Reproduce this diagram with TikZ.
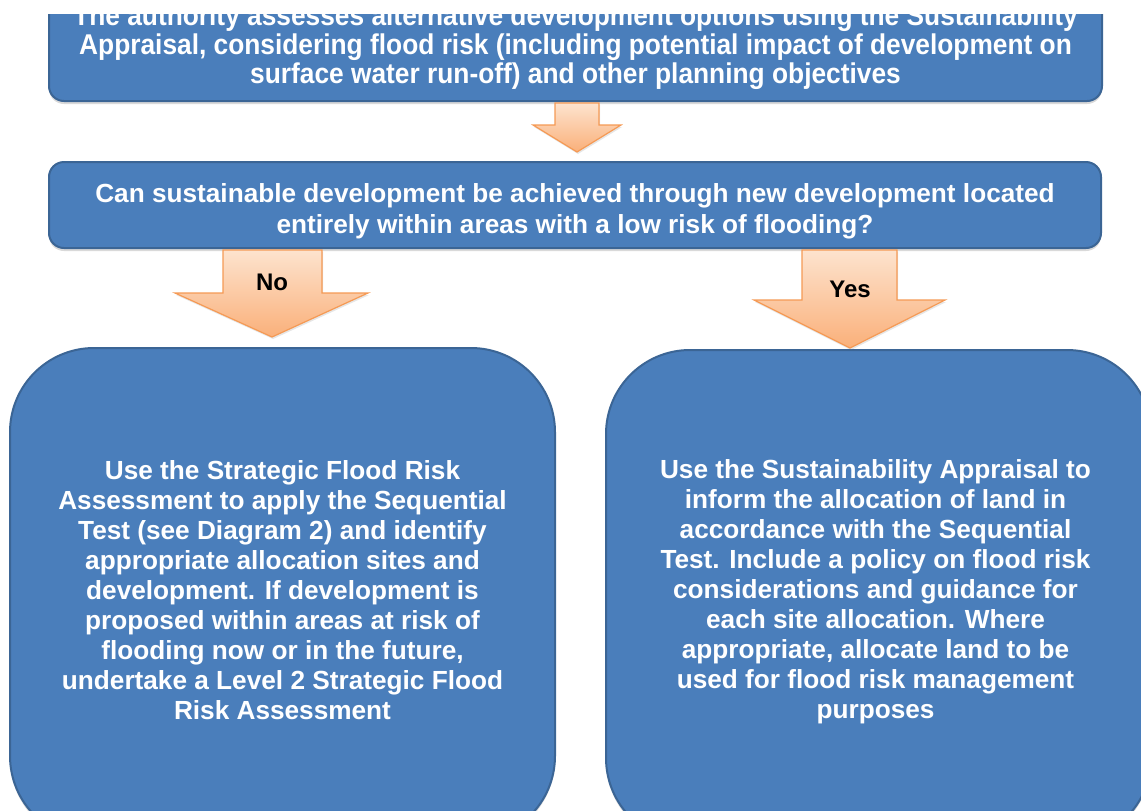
\documentclass[tikz,border=0pt]{standalone}
\usepackage{fontspec}
\setmainfont{Liberation Sans}
\newfontfamily\narrowsans[FakeStretch=0.92]{Liberation Sans}
\usetikzlibrary{shadows}

\definecolor{boxfill}{HTML}{4A7EBB}
\definecolor{boxline}{HTML}{3B6595}
\definecolor{arrowtop}{HTML}{FDE3CE}
\definecolor{arrowbot}{HTML}{FAB07A}
\definecolor{arrowline}{HTML}{F59A55}

\tikzset{
  stage/.style = {draw=boxline, line width=1pt, fill=boxfill,
    inner sep=0pt, rounded corners=7.5pt,
    drop shadow={shadow xshift=0pt, shadow yshift=-1.5pt, opacity=0.3}},
  bigstage/.style = {stage, rounded corners=42pt,
    minimum width=272.5pt, minimum height=246pt},
  stagetext/.style = {text=white, align=center, inner sep=0pt},
  bigtext/.style = {stagetext, font=\bfseries\fontsize{13.1}{15}\selectfont},
  flow/.style = {draw=arrowline, line width=0.6pt, line join=miter,
    top color=arrowtop, bottom color=arrowbot,
    drop shadow={shadow xshift=0.5pt, shadow yshift=-1pt, opacity=0.2}},
  answer/.style = {text=black, font=\bfseries\fontsize{12}{14}\selectfont}
}

\begin{document}
\begin{tikzpicture}[x=0.5pt, y=-0.5pt]
\useasboundingbox (0,0) rectangle (1141,810);
\begin{scope}
\clip (0,14) rectangle (1141,810);

% the four stages
\node[stage, minimum width=526.5pt, minimum height=57pt] (assess) at (575.5,44) {};
\node[stage, minimum width=526pt, minimum height=43pt] (lowrisk) at (575,205) {};
\node[bigstage] (seqtest) at (282.5,594) {};
\node[bigstage] (allocate) at (878.5,596) {};

% their texts
\node[stagetext, font=\narrowsans\bfseries\fontsize{14.3}{14.5}\selectfont]
  (assesstext) at ([yshift=-1.5pt]assess.center)
  {The authority assesses alternative development options using the Sustainability\\
   Appraisal, considering flood risk (including potential impact of development on\\
   surface water run-off) and other planning objectives};
\node[stagetext, font=\bfseries\fontsize{13.1}{15.5}\selectfont]
  (lowrisktext) at ([yshift=-3pt]lowrisk.center)
  {Can sustainable development be achieved through new development located\\
   entirely within areas with a low risk of flooding?};
\node[bigtext] (seqtesttext) at ([yshift=2pt]seqtest.center)
  {Use the Strategic Flood Risk\\
   Assessment to apply the Sequential\\
   Test (see Diagram 2) and identify\\
   appropriate allocation sites and\\
   development. If development is\\
   proposed within areas at risk of\\
   flooding now or in the future,\\
   undertake a Level 2 Strategic Flood\\
   Risk Assessment};
\node[bigtext] (allocatetext) at ([xshift=-1.5pt, yshift=2pt]allocate.center)
  {Use the Sustainability Appraisal to\\
   inform the allocation of land in\\
   accordance with the Sequential\\
   Test. Include a policy on flood risk\\
   considerations and guidance for\\
   each site allocation. Where\\
   appropriate, allocate land to be\\
   used for flood risk management\\
   purposes};

% block arrows between the stages
\draw[flow] (555,103) -- (599,103) -- (599,125) -- (621,125) -- (577,152)
  -- (533,125) -- (555,125) -- cycle;
\draw[flow] (223,250) -- (322,250) -- (322,293) -- (368,293) -- (272,337)
  -- (175,293) -- (223,293) -- cycle;
\draw[flow] (802,250) -- (897,250) -- (897,300) -- (945,300) -- (850,348)
  -- (754,300) -- (802,300) -- cycle;
\node[answer] (no) at (272,282) {No};
\node[answer] (yes) at (850,289) {Yes};
\end{scope}
\end{tikzpicture}
\end{document}
